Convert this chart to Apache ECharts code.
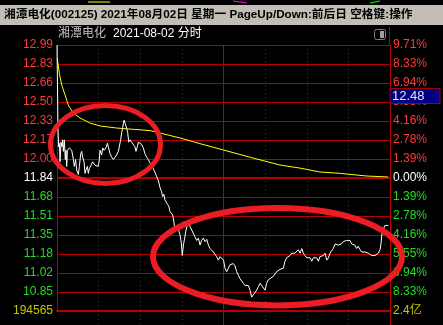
<!DOCTYPE html>
<html><head><meta charset="utf-8">
<script src="https://cdn.jsdelivr.net/npm/echarts@6/dist/echarts.min.js"></script>
<style>html,body{margin:0;padding:0;background:#000;}#c{width:443px;height:325px;}</style>
</head><body><div id="c"></div>
<script>
// ---- data ----
const prevClose = 11.84;
const priceHigh = 12.99;
const title = '湘潭电化(002125) 2021年08月02日 星期一 PageUp/Down:前后日 空格键:操作';
const stockName = '湘潭电化';
const subTitle = '2021-08-02 分时';
const lastPriceLabel = '12.48';
const leftTickLabels = ['194565','10.85','11.02','11.18','11.35','11.51','11.68','11.84','12.00','12.17','12.33','12.50','12.66','12.83','12.99'];
const rightTickLabels = ['2.4亿','8.33%','6.94%','5.55%','4.16%','2.78%','1.39%','0.00%','1.39%','2.78%','4.16%','5.55%','6.94%','8.33%','9.71%'];
const priceMinutes = [0,0.7,1.2,1.7,2.2,2.9,3.6,4.1,4.6,5.3,6,6.5,7,7.5,8.2,8.9,9.9,10.6,11.8,12.5,13.4,14.2,15.4,16.1,17.1,17.8,18.5,19.5,20.2,20.9,21.9,22.6,23.3,24.3,25.7,26.7,27.4,28.6,29.8,30.5,31,32.2,32.9,33.9,35.3,36.3,37,38.2,39.4,40.6,41.8,43,44.2,44.9,45.9,46.6,47.4,48.3,49.2,50.2,51,51.7,52.6,53.8,55,56.2,56.9,57.9,58.6,59.8,61,62.2,63.4,64.6,65.8,67,68.3,69.4,70.6,71.9,73,74.2,75.4,76.1,77,77.8,79,79.8,80.7,81.4,82.6,83.4,84.3,85,86.2,87.4,88.6,89.6,90.3,91.1,92,93,93.9,94.9,95.9,97.1,98.2,99.5,100.7,101.9,103.1,104.2,105.4,106.7,107.9,109.1,110.3,111.5,112.7,113.9,115.1,116.3,117.5,118.7,120,121.1,122.3,123.5,124.7,125.9,127,128.3,129.5,130.7,131.9,133.1,134.3,135.5,136.7,137.9,139.1,140.3,141.5,142.7,143.9,145.1,146.3,147.5,148.7,149.9,151.1,152.3,153.5,155.9,157.1,158.3,159.5,160.7,161.9,163.1,164.3,165.5,166.7,167.9,169.1,170.3,171.5,172.7,173.9,175.2,176.4,177.5,178.7,180,181.2,182.4,183.6,184.8,186,187.2,188.4,189.5,190.8,192,193.2,194.4,195.6,196.8,198,199.1,200.4,201.5,202.7,203.9,205.1,206.3,207.5,208.7,209.9,211.2,212.3,213.5,214.7,216,217.1,218.4,219.6,220.8,222,223.2,224.4,225.6,226.8,227.9,229.2,230.4,231.6,232.8,233.5,234.2,235.2,236.4,237.6,238.8];
const prices = [12.99,12.27,12.11,12.14,11.98,12.15,12.11,12.17,12.07,12.17,12.00,12.08,11.94,12.08,12.07,12.10,12.11,12.08,12.00,11.94,12.00,11.91,11.87,11.94,12.05,12.07,12.02,11.98,11.88,11.91,11.94,11.88,11.92,11.91,11.98,11.97,11.95,11.94,11.94,12.00,12.08,12.04,12.10,12.08,12.10,12.14,12.11,12.05,12.02,12.00,12.00,12.04,12.07,12.08,12.17,12.23,12.28,12.34,12.31,12.27,12.23,12.15,12.17,12.15,12.14,12.11,12.07,12.11,12.15,12.15,12.13,12.10,12.05,12.02,12.00,11.97,11.95,11.92,11.89,11.85,11.82,11.76,11.72,11.68,11.70,11.65,11.66,11.61,11.59,11.55,11.56,11.52,11.46,11.38,11.39,11.40,11.35,11.28,11.17,11.26,11.32,11.39,11.43,11.46,11.42,11.39,11.38,11.33,11.30,11.32,11.26,11.30,11.32,11.29,11.31,11.26,11.23,11.22,11.20,11.19,11.16,11.13,11.16,11.17,11.13,11.06,11.03,11.06,11.09,11.10,11.10,11.08,11.03,11.00,10.97,10.96,10.93,10.91,10.90,10.91,10.87,10.81,10.83,10.85,10.87,10.90,10.93,10.91,10.90,10.87,10.93,10.96,10.97,10.99,10.98,11.03,11.02,11.05,11.04,11.06,11.12,11.15,11.14,11.17,11.19,11.18,11.19,11.19,11.22,11.19,11.23,11.19,11.17,11.15,11.14,11.15,11.12,11.15,11.14,11.15,11.12,11.16,11.15,11.17,11.19,11.13,11.15,11.19,11.20,11.23,11.27,11.28,11.26,11.25,11.27,11.29,11.29,11.30,11.29,11.30,11.27,11.28,11.26,11.23,11.25,11.22,11.20,11.20,11.20,11.19,11.19,11.18,11.17,11.17,11.17,11.17,11.19,11.22,11.27,11.36,11.40,11.43,11.43,11.43];
const avgMinutes = [0.2,1.7,3.4,5.8,8.1,11.7,16.6,23.8,31,43,54.8,67,74.2,88.6,103,120,139,160.7,175,189.5,204,223.4,238.6];
const avgPrices = [12.875,12.745,12.644,12.558,12.471,12.402,12.359,12.315,12.290,12.272,12.261,12.250,12.229,12.186,12.137,12.082,12.020,11.952,11.926,11.892,11.880,11.857,11.849];

// ---- chart ----
const step = (priceHigh - prevClose) / 7;
const yMin = prevClose - 7 * step;
const yMax = priceHigh;
const pricePairs = priceMinutes.map((m, i) => [m, prices[i]]);
const avgPairs = avgMinutes.map((m, i) => [m, avgPrices[i]]);

const RED = '#b40000';
const labelColor = (v, i) => i === 0 ? '#c8c800' : (i < 7 ? '#22dd22' : (i === 7 ? '#ffffff' : '#ff3a3a'));
const FONT = '"Liberation Sans", Arial, sans-serif';
const CJK = '"Liberation Sans", "Noto Sans CJK SC", sans-serif';

const chart = echarts.init(document.getElementById('c'), null, {renderer: 'canvas'});
chart.setOption({
  animation: false,
  backgroundColor: '#000000',
  grid: [
    {left: 57, right: 53, top: 45, bottom: 14},
    {left: 57, right: 53, top: 311, height: 40}
  ],
  xAxis: [
    {gridIndex: 0, type: 'value', min: 0, max: 240, interval: 30,
      axisLine: {show: true, lineStyle: {color: RED, width: 2}}, axisTick: {show: false}, axisLabel: {show: false},
      splitLine: {show: true, lineStyle: {color: RED, width: 1, type: [1, 3]}}},
    {gridIndex: 0, type: 'value', min: 0, max: 240, interval: 120, position: 'top',
      axisLine: {show: false}, axisTick: {show: false}, axisLabel: {show: false},
      splitLine: {show: true, lineStyle: {color: RED, width: 1, type: 'solid'}}},
    {gridIndex: 1, type: 'value', min: 0, max: 240, interval: 30,
      axisLine: {show: false}, axisTick: {show: false}, axisLabel: {show: false},
      splitLine: {show: true, showMinLine: false, lineStyle: {color: RED, width: 1, type: [1, 3]}}},
    {gridIndex: 1, type: 'value', min: 0, max: 240, interval: 120, position: 'top',
      axisLine: {show: false}, axisTick: {show: false}, axisLabel: {show: false},
      splitLine: {show: true, showMinLine: false, lineStyle: {color: RED, width: 1, type: 'solid'}}}
  ],
  yAxis: [
    {gridIndex: 0, type: 'value', min: yMin, max: yMax, interval: step, position: 'left',
      axisLine: {show: false}, axisTick: {show: false},
      axisLabel: {margin: 4, fontSize: 12, fontFamily: FONT, color: labelColor,
        formatter: (v, i) => leftTickLabels[i] || ''},
      splitLine: {show: true, lineStyle: {color: RED, width: 1}}},
    {gridIndex: 0, type: 'value', min: yMin, max: yMax, interval: step, position: 'right',
      axisLine: {show: false}, axisTick: {show: false},
      axisLabel: {margin: 3, fontSize: 12, fontFamily: CJK, color: labelColor,
        formatter: (v, i) => rightTickLabels[i] || ''},
      splitLine: {show: false}},
    {gridIndex: 1, type: 'value', min: 0, max: 1, show: false}
  ],
  series: [
    {type: 'line', xAxisIndex: 0, yAxisIndex: 0, data: avgPairs, symbol: 'none', silent: true,
      lineStyle: {color: '#ffff00', width: 1}, z: 3},
    {type: 'line', xAxisIndex: 0, yAxisIndex: 0, data: pricePairs, symbol: 'none', silent: true,
      lineStyle: {color: '#ffffff', width: 1}, z: 4,
      markLine: {silent: true, symbol: 'none', label: {show: false},
        lineStyle: {color: RED, width: 2, type: 'solid'}, data: [{yAxis: prevClose}], z: 2}},
    {type: 'line', xAxisIndex: 2, yAxisIndex: 2, data: [], symbol: 'none'}
  ],
  graphic: [
    // header bar
    {type: 'rect', shape: {x: 0, y: 5, width: 443, height: 20}, style: {fill: '#c2beb6'}, z: 10},
    {type: 'text', x: 4, y: 15, style: {text: title, fill: '#000000', font: 'bold 11.7px ' + CJK, verticalAlign: 'middle'}, z: 11},
    // fragments of a window behind, on the top strip
    {type: 'line', shape: {x1: 88, y1: 2, x2: 110, y2: 2}, style: {stroke: '#ffff00', lineWidth: 1}, z: 10},
    {type: 'line', shape: {x1: 233, y1: 1, x2: 247, y2: 3}, style: {stroke: '#ff00ff', lineWidth: 1}, z: 10},
    {type: 'line', shape: {x1: 370, y1: 3, x2: 380, y2: 1}, style: {stroke: '#00ff00', lineWidth: 1}, z: 10},
    // sub header
    {type: 'text', x: 58, y: 34, style: {text: stockName, fill: '#c0c0c0', font: '12px ' + CJK, verticalAlign: 'middle'}, z: 11},
    {type: 'text', x: 113, y: 34, style: {text: subTitle, fill: '#ffffff', font: '12px ' + CJK, verticalAlign: 'middle'}, z: 11},
    {type: 'rect', shape: {x: 374.5, y: 29.5, width: 11, height: 10, r: 2}, style: {fill: '#000', stroke: '#808080', lineWidth: 1}, z: 11},
    {type: 'rect', shape: {x: 380, y: 31, width: 4, height: 7}, style: {fill: '#a0a0a0'}, z: 11},
    {type: 'line', shape: {x1: 389.5, y1: 27, x2: 389.5, y2: 46}, style: {stroke: RED, lineWidth: 1}, z: 11},
    // last price box
    {type: 'rect', shape: {x: 390, y: 88.5, width: 50, height: 15}, style: {fill: '#000080', stroke: '#a00000', lineWidth: 1}, z: 12},
    {type: 'text', x: 392, y: 96.5, style: {text: lastPriceLabel, fill: '#e0e0f0', font: '13px ' + FONT, verticalAlign: 'middle'}, z: 13},
    // red annotation ellipses
    {type: 'ellipse', shape: {cx: 105.5, cy: 144.5, rx: 55, ry: 39}, style: {fill: 'none', stroke: '#ec1c24', lineWidth: 5}, z: 20},
    {type: 'ellipse', shape: {cx: 277.5, cy: 256.7, rx: 124.5, ry: 48.7}, style: {fill: 'none', stroke: '#ec1c24', lineWidth: 6}, z: 20}
  ]
});
</script>
</body></html>
